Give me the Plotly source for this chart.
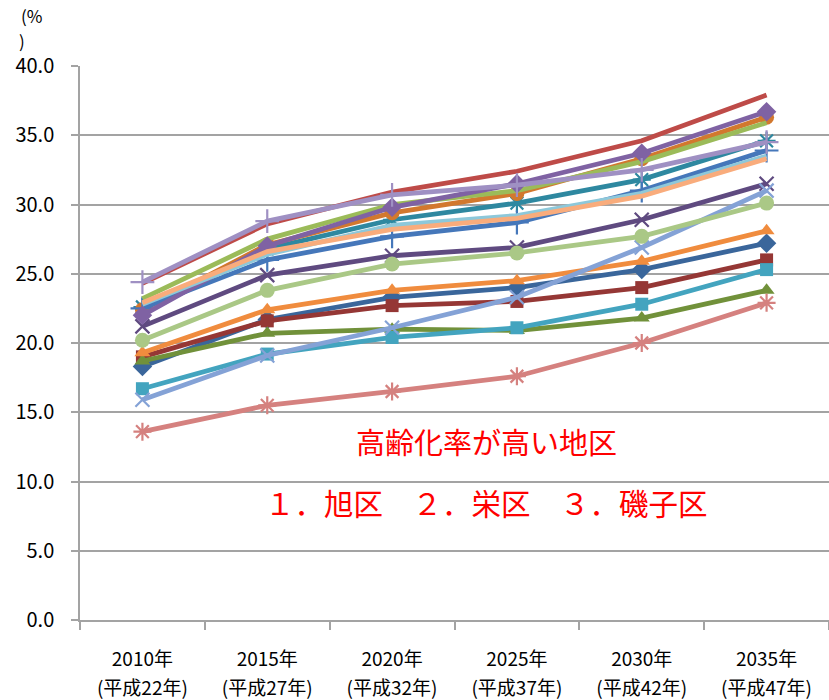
import plotly.graph_objects as go

# Projected share of population aged 65+ (%) by ward, Yokohama
years = ["2010年", "2015年", "2020年", "2025年", "2030年", "2035年"]
heisei = ["(平成22年)", "(平成27年)", "(平成32年)", "(平成37年)", "(平成42年)", "(平成47年)"]

tsurumi = [18.3, 21.7, 23.3, 24.0, 25.3, 27.2]
kanagawa = [19.0, 21.6, 22.7, 23.0, 24.0, 26.0]
nishi = [18.7, 20.7, 21.0, 20.9, 21.8, 23.8]
naka = [21.2, 24.9, 26.3, 26.9, 28.9, 31.5]
minami = [22.6, 26.8, 28.9, 30.1, 31.8, 34.6]
konan = [22.4, 27.1, 29.4, 30.8, 33.3, 36.3]
hodogaya = [22.5, 26.0, 27.7, 28.7, 31.0, 33.9]
asahi = [24.3, 28.6, 30.9, 32.4, 34.6, 37.9]
isogo = [23.2, 27.5, 30.0, 31.0, 33.1, 35.9]
kanazawa = [22.0, 27.0, 29.8, 31.5, 33.7, 36.7]
kohoku = [16.7, 19.2, 20.4, 21.1, 22.8, 25.3]
midori = [19.3, 22.4, 23.8, 24.5, 25.9, 28.1]
aoba = [15.9, 19.1, 21.1, 23.3, 26.9, 31.0]
tsuzuki = [13.6, 15.5, 16.5, 17.6, 20.0, 22.9]
totsuka = [20.2, 23.8, 25.7, 26.5, 27.7, 30.1]
sakae = [24.4, 28.8, 30.7, 31.4, 32.5, 34.5]
izumi = [22.8, 26.4, 28.5, 29.2, 30.8, 33.5]
seya = [22.9, 26.6, 28.2, 29.0, 30.6, 33.3]

wards = [
    ("鶴見区", tsurumi, "#3A669B", "diamond"),
    ("神奈川区", kanagawa, "#953735", "square"),
    ("西区", nishi, "#71913A", "triangle-up"),
    ("中区", naka, "#5F4A80", "x-thin"),
    ("南区", minami, "#2E88A0", "asterisk"),
    ("港南区", konan, "#D2782E", "circle"),
    ("保土ケ谷区", hodogaya, "#4577BA", "cross-thin"),
    ("旭区", asahi, "#BE4B48", None),
    ("磯子区", isogo, "#9BBB59", None),
    ("金沢区", kanazawa, "#7F62A3", "diamond"),
    ("港北区", kohoku, "#43A4BF", "square"),
    ("緑区", midori, "#F08C3E", "triangle-up"),
    ("青葉区", aoba, "#84A2D6", "x-thin"),
    ("都筑区", tsuzuki, "#D5817F", "asterisk"),
    ("戸塚区", totsuka, "#AAC886", "circle"),
    ("栄区", sakae, "#9F90C3", "cross-thin"),
    ("泉区", izumi, "#8DC8DA", None),
    ("瀬谷区", seya, "#F9AC7C", None),
]

line_symbols = {"x-thin", "asterisk", "cross-thin"}
sizes = {"diamond": 15, "square": 13, "triangle-up": 14, "circle": 15,
         "x-thin": 14, "asterisk": 15, "cross-thin": 17}

fig = go.Figure()
for name, vals, color, sym in wards:
    if sym is None:
        marker = dict(size=1, opacity=0)
        mode = "lines"
    elif sym in line_symbols:
        marker = dict(symbol=sym, size=sizes[sym], color=color,
                      line=dict(color=color, width=2.2))
        mode = "lines+markers"
    else:
        marker = dict(symbol=sym, size=sizes[sym], color=color,
                      line=dict(width=0))
        mode = "lines+markers"
    fig.add_trace(go.Scatter(x=years, y=vals, name=name, mode=mode,
                             line=dict(color=color, width=4.8),
                             marker=marker, showlegend=False))

# secondary category axis carrying the Japanese era labels
fig.add_trace(go.Scatter(x=years, y=[None] * len(years), xaxis="x2",
                         mode="lines", showlegend=False, hoverinfo="skip"))

font_family = "Noto Sans CJK JP"
grid = "#A3A3A3"

fig.update_layout(
    width=829, height=700,
    margin=dict(l=80, r=0, t=66, b=80),
    paper_bgcolor="white", plot_bgcolor="white",
    font=dict(family=font_family, color="black"),
    xaxis=dict(
        type="category", categoryarray=years, range=[-0.5, 5.5],
        showgrid=False, showline=True, linecolor=grid, linewidth=1.5,
        ticks="outside", tickson="boundaries", ticklen=8, tickcolor=grid,
        tickwidth=1.5, tickfont=dict(size=19), ticklabelstandoff=21,
        automargin=False,
    ),
    xaxis2=dict(
        type="category", categoryarray=years, range=[-0.5, 5.5],
        overlaying="x", anchor="y", side="bottom",
        tickmode="array", tickvals=years, ticktext=heisei,
        showgrid=False, showline=False, ticks="", tickfont=dict(size=19),
        ticklabelstandoff=55, automargin=False,
    ),
    yaxis=dict(
        range=[0, 40], dtick=5, tickformat=".1f",
        showgrid=True, gridcolor=grid, gridwidth=1.5,
        zeroline=False, showline=True, linecolor=grid, linewidth=1.5,
        ticks="outside", ticklen=7, tickcolor=grid, tickwidth=1.5,
        tickfont=dict(size=20), ticklabelstandoff=13, automargin=False,
    ),
)

# unit label, wrapped over two lines
fig.add_annotation(text="(%", xref="paper", yref="paper", x=-0.082, y=1.0,
                   yshift=51, xanchor="left", yanchor="middle",
                   showarrow=False, font=dict(size=17))
fig.add_annotation(text=")", xref="paper", yref="paper", x=-0.084, y=1.0,
                   yshift=26, xanchor="left", yanchor="middle",
                   showarrow=False, font=dict(size=17))

red = "#FF0000"
fig.add_annotation(text="高齢化率が高い地区", xref="paper", yref="y",
                   x=0.543, y=12.95, showarrow=False,
                   font=dict(size=29, color=red))
fig.add_annotation(text="１．旭区　２．栄区　３．磯子区", xref="paper", yref="y",
                   x=0.543, y=8.5, showarrow=False,
                   font=dict(size=29.5, color=red))

fig.write_html("out.html")
